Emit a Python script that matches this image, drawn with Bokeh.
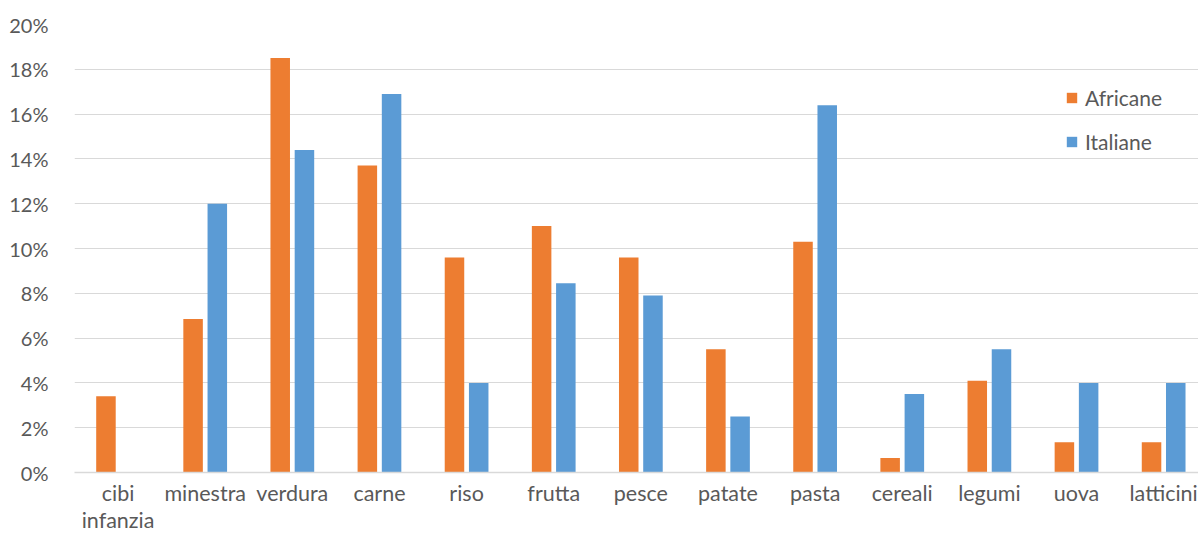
from bokeh.plotting import figure
from bokeh.models import (Range1d, FixedTicker, NumeralTickFormatter, Legend,
                          LegendItem, ColumnDataSource)
from bokeh.embed import file_html
from bokeh.resources import INLINE

# Share of foods mentioned, by group of mothers
categories = ["cibi\ninfanzia", "minestra", "verdura", "carne", "riso", "frutta",
              "pesce", "patate", "pasta", "cereali", "legumi", "uova", "latticini"]
africane = [0.034, 0.0685, 0.185, 0.137, 0.096, 0.110, 0.096, 0.055, 0.103,
            0.0065, 0.041, 0.0135, 0.0135]
italiane = [0.0, 0.120, 0.144, 0.169, 0.040, 0.0845, 0.079, 0.025, 0.164,
            0.035, 0.055, 0.040, 0.040]
series_names = ["Africane", "Italiane"]
y_ticks = [0.0, 0.02, 0.04, 0.06, 0.08, 0.10, 0.12, 0.14, 0.16, 0.18, 0.20]

ORANGE = "#ED7D31"
BLUE = "#5B9BD5"
TEXT = "#595959"
GRID = "#D9D9D9"
FONT = "Lato"

idx = list(range(len(categories)))
offset = 0.139
bar_w = 0.224

src = ColumnDataSource(dict(
    xa=[i - offset for i in idx], xb=[i + offset for i in idx],
    africane=africane, italiane=italiane))

p = figure(width=1198, height=535, output_backend="svg", toolbar_location=None,
           x_range=Range1d(-0.5, 12.40), y_range=Range1d(0, 0.20),
           min_border_left=74, min_border_right=0, min_border_top=24,
           min_border_bottom=62)
p.outline_line_color = None
p.background_fill_color = "white"
p.border_fill_color = "white"

ra = p.vbar(x="xa", top="africane", width=bar_w, source=src,
            fill_color=ORANGE, line_color=None)
rb = p.vbar(x="xb", top="italiane", width=bar_w, source=src,
            fill_color=BLUE, line_color=None)

# y axis
p.yaxis.ticker = FixedTicker(ticks=y_ticks)
p.yaxis.formatter = NumeralTickFormatter(format="0%")
p.yaxis.axis_line_color = None
p.yaxis.major_tick_line_color = None
p.yaxis.minor_tick_line_color = None
p.yaxis.major_label_text_font = FONT
p.yaxis.major_label_text_font_size = "20px"
p.yaxis.major_label_text_color = TEXT
p.yaxis.major_label_standoff = 20

# x axis, category names (wrapped onto two lines where needed)
p.xaxis.ticker = FixedTicker(ticks=idx)
p.xaxis.major_label_overrides = {i: c for i, c in zip(idx, categories)}
p.xaxis.axis_line_color = GRID
p.xaxis.axis_line_width = 1.5
p.xaxis.major_tick_line_color = None
p.xaxis.minor_tick_line_color = None
p.xaxis.major_label_text_font = FONT
p.xaxis.major_label_text_font_size = "21.5px"
p.xaxis.major_label_text_line_height = 1.05
p.xaxis.major_label_text_color = TEXT
p.xaxis.major_label_standoff = 1

p.xgrid.grid_line_color = None
p.ygrid.ticker = FixedTicker(ticks=y_ticks)
p.ygrid.grid_line_color = GRID
p.ygrid.grid_line_width = 1

legend = Legend(items=[LegendItem(label=series_names[0], renderers=[ra]),
                       LegendItem(label=series_names[1], renderers=[rb])],
                location=(991, 318), orientation="vertical",
                glyph_width=13, glyph_height=13, label_standoff=7,
                spacing=19, padding=0, margin=0,
                label_text_font=FONT, label_text_font_size="21px",
                label_text_color=TEXT, background_fill_alpha=0,
                border_line_color=None)
p.add_layout(legend)

open("out.html", "w").write(file_html(p, INLINE))
